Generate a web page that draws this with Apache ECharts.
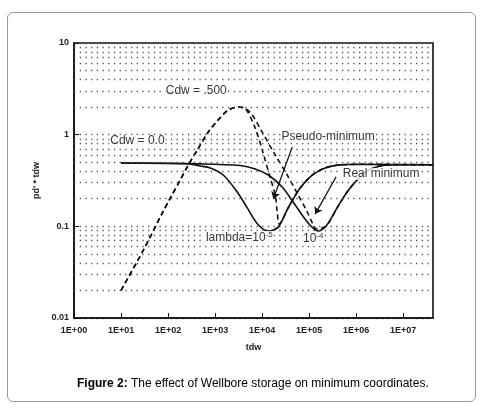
<!DOCTYPE html>
<html>
<head>
<meta charset="utf-8">
<title>Figure 2</title>
<script src="https://cdn.jsdelivr.net/npm/echarts@6.0.0/dist/echarts.min.js"></script>
<style>
  html, body { margin: 0; padding: 0; background: #fff; }
  #frame { position: absolute; left: 7px; top: 12px; width: 467px; height: 388px; border: 1px solid #9a9a9a; border-radius: 6px; }
  #main { position: absolute; left: 0; top: 0; width: 486px; height: 418px; }
</style>
</head>
<body>
<div id="frame"></div>
<div id="main"></div>
<script>
// values: [tdw, pd' * tdw]
const xTickLabels = ['1E+00', '1E+01', '1E+02', '1E+03', '1E+04', '1E+05', '1E+06', '1E+07']

// Cdw = 0.0
const cdw0Lambda5 = [
  [10, 0.49], [233, 0.485], [485, 0.456], [791, 0.433], [1490, 0.363], [2960, 0.237],
  [4830, 0.159], [8260, 0.104], [13500, 0.089], [22000, 0.098], [35800, 0.159],
  [64400, 0.262], [116000, 0.363], [219000, 0.434], [455000, 0.468], [1210000, 0.475], [43000000, 0.47]
]
const cdw0Lambda4 = [
  [10, 0.49], [485, 0.48], [3430, 0.461], [7140, 0.423], [13500, 0.363], [26700, 0.269],
  [50500, 0.171], [95000, 0.109], [155000, 0.089], [230000, 0.101], [393000, 0.159],
  [641000, 0.237], [1050000, 0.321], [1700000, 0.402], [3210000, 0.456], [6700000, 0.47], [43000000, 0.47]
]

// Cdw = .500
const cdw500Lambda5 = [
  [10, 0.02], [30, 0.0553], [75.7, 0.14], [112, 0.204], [182, 0.321], [270, 0.467], [419, 0.681],
  [717, 1.07], [1170, 1.45], [1910, 1.86], [3110, 2.0], [4380, 1.93], [7140, 1.18], [10500, 0.632],
  [14900, 0.337], [19000, 0.22], [20900, 0.144], [23100, 0.106], [35800, 0.159], [64400, 0.262],
  [116000, 0.363], [219000, 0.434], [455000, 0.468], [1210000, 0.475], [43000000, 0.47]
]
const cdw500Lambda4 = [
  [10, 0.02], [30, 0.0553], [75.7, 0.14], [112, 0.204], [182, 0.321], [270, 0.467], [419, 0.681],
  [717, 1.07], [1170, 1.45], [1910, 1.86], [3110, 2.0], [4380, 1.93], [6170, 1.64], [10000, 1.07],
  [19000, 0.601], [34100, 0.363], [58400, 0.22], [90700, 0.144], [122000, 0.104], [141000, 0.094],
  [230000, 0.101], [393000, 0.159], [641000, 0.237], [1050000, 0.321], [1700000, 0.402],
  [3210000, 0.456], [6700000, 0.47], [43000000, 0.47]
]

// dotted rows between the decades
const minorLevels = [
  0.02, 0.03, 0.04, 0.05, 0.06, 0.07, 0.08, 0.09,
  0.2, 0.3, 0.4, 0.5, 0.6, 0.7, 0.8, 0.9,
  2, 3, 4, 5, 6, 7, 8, 9
]

// text notes on the plot and their arrows (data coords)
const notes = [
  { text: 'Cdw = .500', at: [398, 3.0] },
  { text: 'Cdw = 0.0', at: [22.3, 0.853] },
  { text: 'Pseudo-minimum', at: [253000, 0.944] },
  { text: 'Real minimum', at: [3380000, 0.373] },
  { text: '{t|lambda=10}{s|-5}', at: [3270, 0.0746] },
  { text: '{t|10}{s|-4}', at: [122000, 0.0728] }
]
const arrows = [
  [[43700, 0.734], [17300, 0.199]],
  [[373000, 0.346], [134000, 0.136]]
]

const font = '"Liberation Sans", Arial, Helvetica, sans-serif'
const ink = '#111'
const dots = { color: '#555', width: 1.3, type: [1.3, 4.4] }

const myChart = echarts.init(document.getElementById('main'))

const curve = (name, data, dashed) => ({
  name,
  type: 'line',
  data,
  symbol: 'none',
  smooth: 0.3,
  z: 3,
  lineStyle: { color: ink, width: 1.6, type: dashed ? [5, 3.5] : 'solid' }
})

const option = {
  animation: false,
  title: {
    text: '{b|Figure 2:} The effect of Wellbore storage on minimum coordinates.',
    left: 72,
    top: 373,
    textStyle: {
      fontSize: 12, fontWeight: 'normal', color: '#000', fontFamily: font,
      rich: { b: { fontSize: 12, fontWeight: 'bold', color: '#000', fontFamily: font } }
    }
  },
  grid: {
    left: 74, right: 53, top: 43, bottom: 100,
    show: true, borderColor: ink, borderWidth: 1.6
  },
  xAxis: {
    type: 'log',
    min: 1,
    max: 43000000,
    splitNumber: 8,
    name: 'tdw',
    nameLocation: 'middle',
    nameGap: 25,
    nameTextStyle: { fontSize: 9, fontWeight: 'bold', color: '#222', fontFamily: font },
    axisLine: { lineStyle: { color: ink, width: 1.6 } },
    axisTick: { inside: true, length: 5, lineStyle: { color: ink } },
    axisLabel: {
      fontSize: 9, fontWeight: 'bold', color: '#222', fontFamily: font, margin: 8,
      showMaxLabel: false,
      formatter: v => xTickLabels[Math.round(Math.log10(v))] || ''
    },
    splitLine: { show: false }
  },
  yAxis: {
    type: 'log',
    min: 0.01,
    max: 10,
    name: "pd' * tdw",
    nameLocation: 'middle',
    nameGap: 32,
    nameTextStyle: { fontSize: 9, fontWeight: 'bold', color: '#222', fontFamily: font },
    axisLine: { lineStyle: { color: ink, width: 1.6 } },
    axisTick: { inside: true, length: 5, lineStyle: { color: ink } },
    axisLabel: { fontSize: 9, fontWeight: 'bold', color: '#222', fontFamily: font, margin: 5 },
    splitLine: { show: true, lineStyle: dots }
  },
  series: [
    {
      name: 'grid',
      type: 'line',
      data: [],
      z: 1,
      markLine: {
        silent: true,
        symbol: 'none',
        label: { show: false },
        lineStyle: dots,
        data: minorLevels.map(v => ({ yAxis: v }))
      }
    },
    curve('Cdw=0, lambda=1e-5', cdw0Lambda5, false),
    curve('Cdw=0, lambda=1e-4', cdw0Lambda4, false),
    curve('Cdw=.5, lambda=1e-5', cdw500Lambda5, true),
    curve('Cdw=.5, lambda=1e-4', cdw500Lambda4, true),
    {
      name: 'notes',
      type: 'scatter',
      symbolSize: 0,
      z: 5,
      data: notes.map(n => ({
        value: n.at,
        label: { formatter: n.text }
      })),
      label: {
        show: true,
        position: 'inside',
        fontSize: 12,
        color: '#000',
        fontFamily: font,
        backgroundColor: '#fff',
        padding: [0, 1],
        rich: {
          t: { fontSize: 12, color: '#000', fontFamily: font, lineHeight: 14 },
          s: { fontSize: 8, color: '#000', fontFamily: font, verticalAlign: 'top', lineHeight: 14 }
        }
      },
      markLine: {
        silent: true,
        symbol: ['none', 'arrow'],
        symbolSize: 7,
        label: { show: false },
        lineStyle: { color: ink, width: 1.2, type: 'solid' },
        data: arrows.map(a => [{ coord: a[0] }, { coord: a[1] }])
      }
    }
  ]
}

myChart.setOption(option)
window.onresize = () => {
  myChart.resize()
}
</script>
</body>
</html>
